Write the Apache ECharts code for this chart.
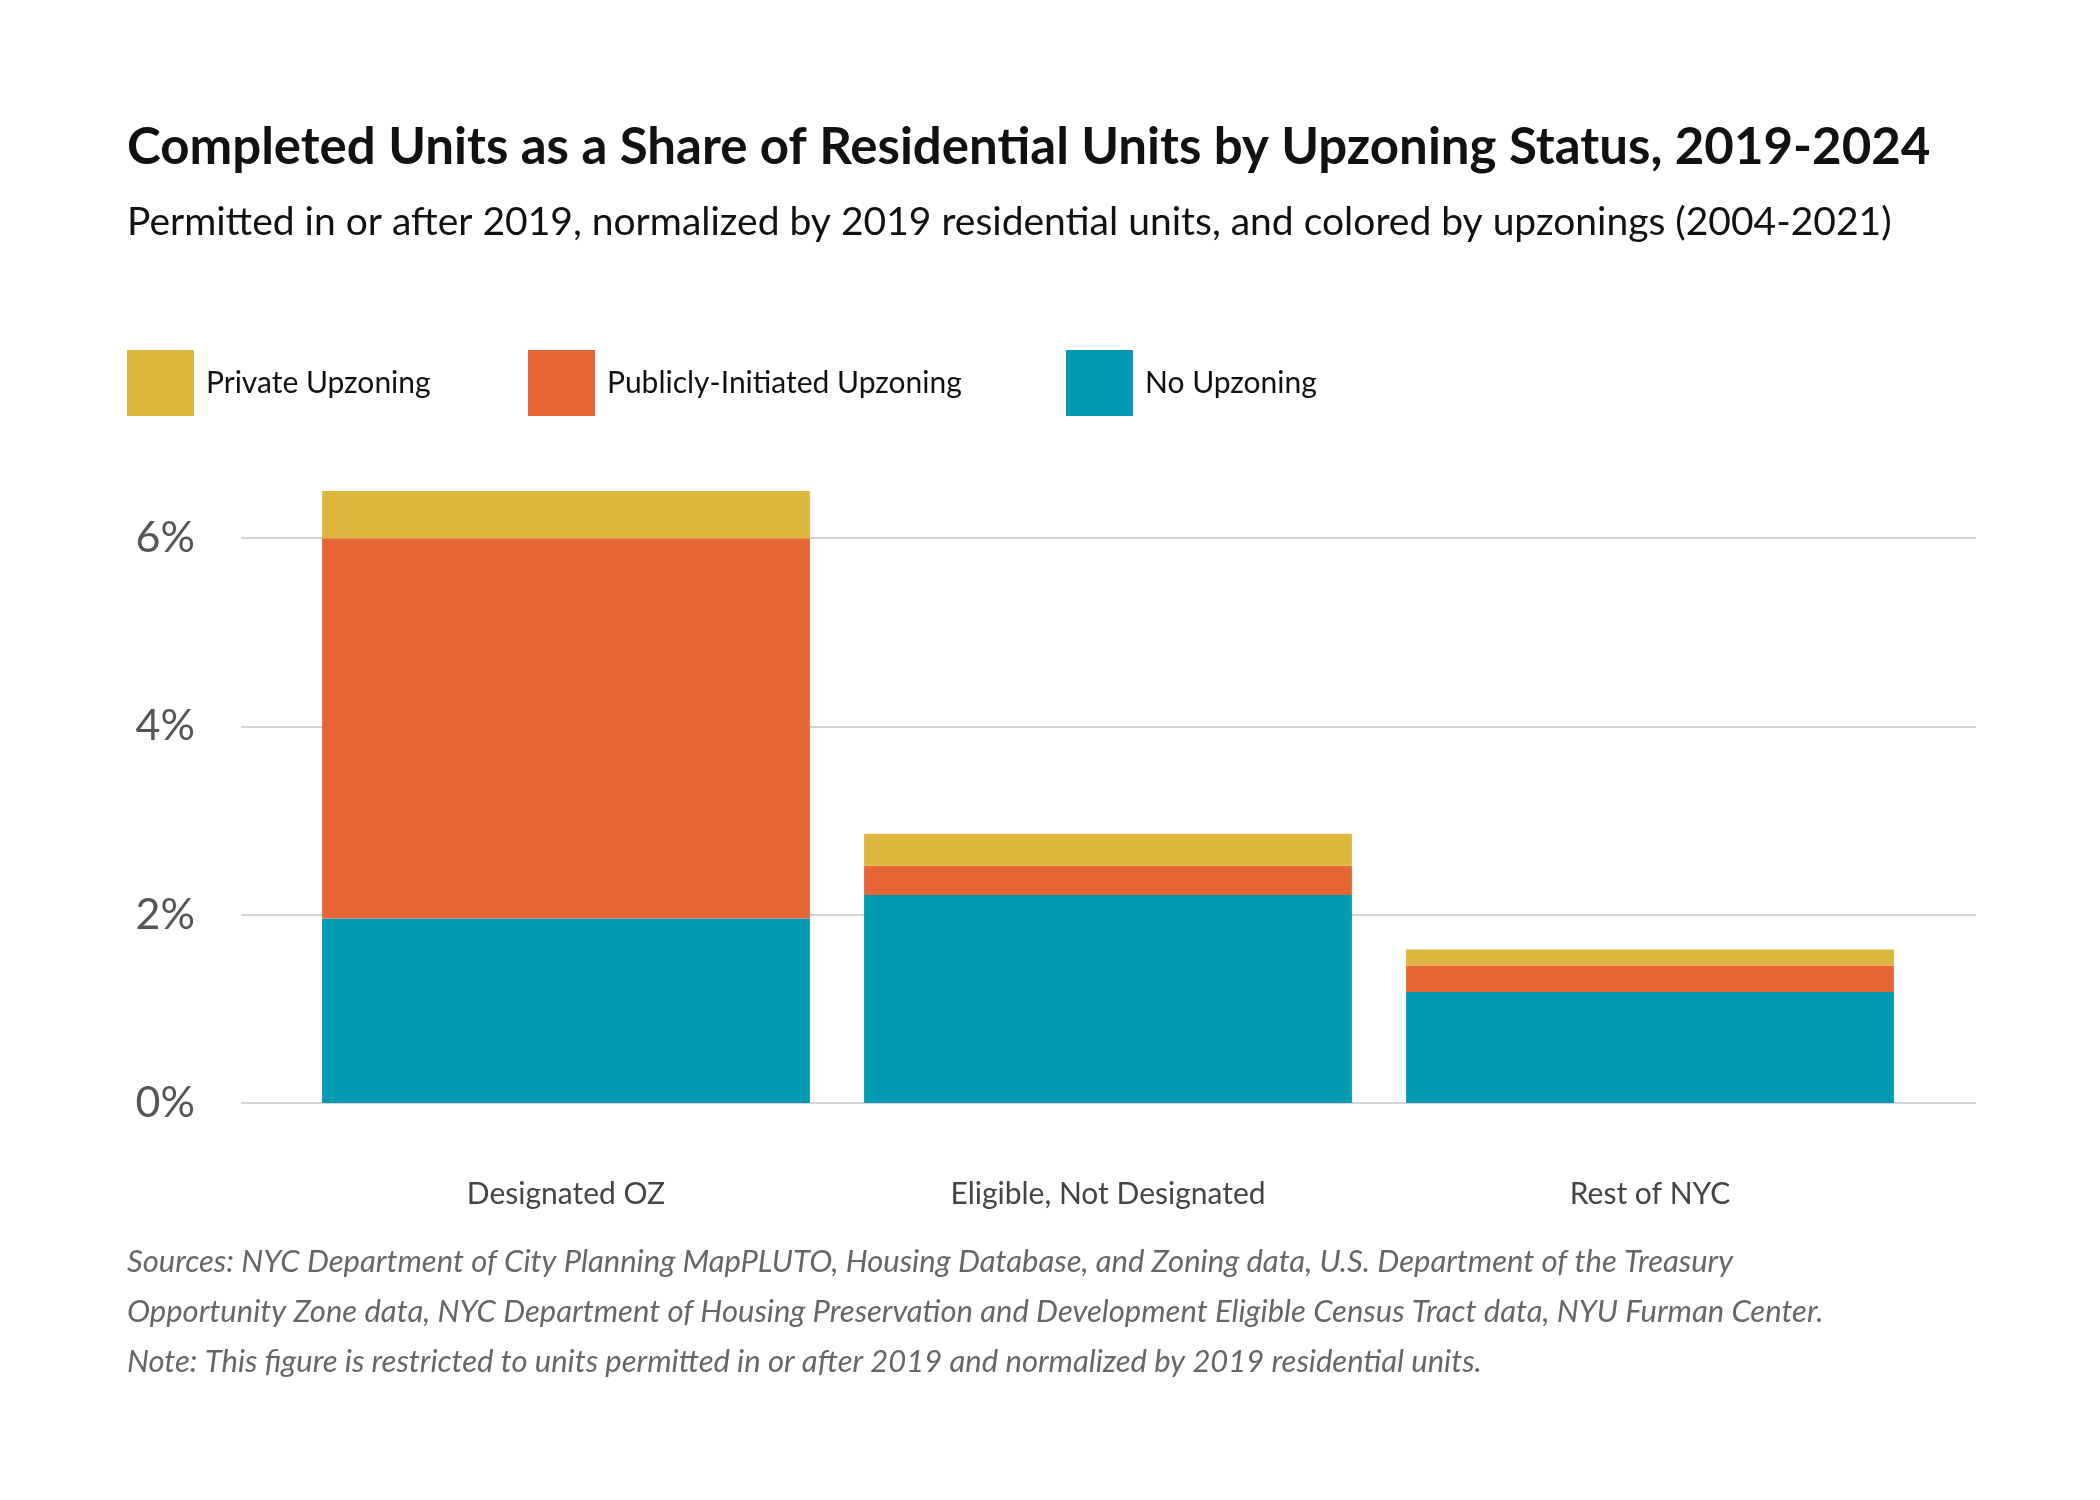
<!DOCTYPE html>
<html>
<head>
<meta charset="utf-8">
<title>Completed Units as a Share of Residential Units by Upzoning Status</title>
<script src="https://cdn.jsdelivr.net/npm/echarts@6.0.0/dist/echarts.min.js"></script>
<style>
    html, body { margin: 0; padding: 0; background: #fff; }
    #unitsChart { width: 2100px; height: 1500px; }
</style>
</head>
<body>
<div id="unitsChart"></div>
<script>
// 分类与数据（单位：%）
var categories = ['Designated OZ', 'Eligible, Not Designated', 'Rest of NYC'];
var noUpzoning = [1.96, 2.21, 1.18];
var publicUpzoning = [4.04, 0.31, 0.28];
var privateUpzoning = [0.50, 0.34, 0.17];
var seriesNames = ['Private Upzoning', 'Publicly-Initiated Upzoning', 'No Upzoning'];
var seriesColors = ['#ddb63d', '#e66535', '#009ab3'];
var yTicks = [0, 2, 4, 6];

var FONT = 'Lato, "Noto Sans", sans-serif';

/**
 * 图例：每个系列单独一个，方便定位
 */
var legendLeft = [127, 528, 1066];
var legends = seriesNames.map(function (name, i) {
    return {
        left: legendLeft[i],
        top: 350,
        padding: 0,
        orient: 'horizontal',
        icon: 'rect',
        itemWidth: 67,
        itemHeight: 66,
        selectedMode: false,
        data: [name],
        textStyle: {
            fontFamily: FONT,
            fontSize: 30,
            color: '#111',
            padding: [0, 0, 0, 7]
        }
    };
});

var unitsChart = echarts.init(document.getElementById('unitsChart'));
unitsChart.setOption({
    backgroundColor: '#fff',
    animation: false,
    title: [
        {
            text: 'Completed Units as a Share of Residential Units by Upzoning Status, 2019-2024',
            left: 127,
            top: 122,
            padding: 0,
            textStyle: { fontFamily: FONT, fontSize: 51, fontWeight: 'bold', color: '#111' }
        },
        {
            text: 'Permitted in or after 2019, normalized by 2019 residential units, and colored by upzonings (2004-2021)',
            left: 127,
            top: 203,
            padding: 0,
            textStyle: { fontFamily: FONT, fontSize: 39, fontWeight: 'normal', color: '#111' }
        },
        {
            text: 'Sources: NYC Department of City Planning MapPLUTO, Housing Database, and Zoning data, U.S. Department of the Treasury\n' +
                  'Opportunity Zone data, NYC Department of Housing Preservation and Development Eligible Census Tract data, NYU Furman Center.\n' +
                  'Note: This figure is restricted to units permitted in or after 2019 and normalized by 2019 residential units.',
            left: 127,
            top: 1237,
            padding: 0,
            textStyle: { fontFamily: FONT, fontSize: 31, fontStyle: 'italic', fontWeight: 'normal', color: '#666', lineHeight: 50 }
        }
    ],
    legend: legends,
    // grid 0 只画横向网格线，grid 1 放柱子
    grid: [
        { left: 241, right: 124, top: 444, bottom: 397, outerBoundsMode: 'none' },
        { left: 295, right: 179, top: 444, bottom: 397, outerBoundsMode: 'none' }
    ],
    xAxis: [
        { gridIndex: 0, type: 'value', min: 0, max: 1, show: false },
        {
            gridIndex: 1,
            type: 'category',
            data: categories,
            axisLine: { show: false },
            axisTick: { show: false },
            axisLabel: { fontFamily: FONT, fontSize: 30, color: '#444', margin: 76 }
        }
    ],
    yAxis: [
        {
            gridIndex: 0,
            type: 'value',
            min: 0,
            max: 7,
            interval: 2,
            axisLine: { show: false },
            axisTick: { show: false },
            axisLabel: {
                fontFamily: FONT,
                fontSize: 43,
                color: '#555',
                margin: 46,
                showMaxLabel: false,
                formatter: function (v) { return yTicks.indexOf(v) >= 0 ? v + '%' : ''; }
            },
            splitLine: { show: true, showMaxLine: false, lineStyle: { color: '#d4d4d4', width: 2 } }
        },
        { gridIndex: 1, type: 'value', min: 0, max: 7, show: false }
    ],
    series: [
        {
            name: seriesNames[2],
            type: 'bar',
            stack: 'units',
            xAxisIndex: 1,
            yAxisIndex: 1,
            barCategoryGap: '10%',
            itemStyle: { color: seriesColors[2] },
            data: noUpzoning
        },
        {
            name: seriesNames[1],
            type: 'bar',
            stack: 'units',
            xAxisIndex: 1,
            yAxisIndex: 1,
            itemStyle: { color: seriesColors[1] },
            data: publicUpzoning
        },
        {
            name: seriesNames[0],
            type: 'bar',
            stack: 'units',
            xAxisIndex: 1,
            yAxisIndex: 1,
            itemStyle: { color: seriesColors[0] },
            data: privateUpzoning
        }
    ]
});
</script>
</body>
</html>
